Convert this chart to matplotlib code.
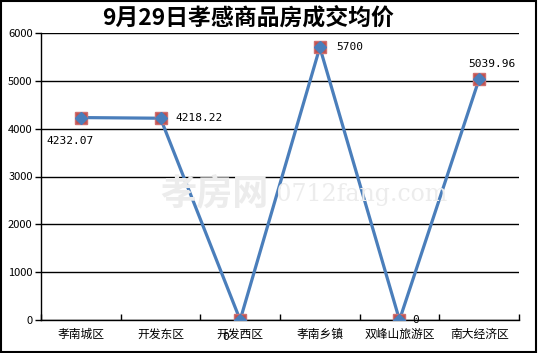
import matplotlib
matplotlib.use("Agg")
import matplotlib.pyplot as plt
from matplotlib.patches import Rectangle

plt.rcParams['font.family'] = ['Noto Sans CJK SC', 'DejaVu Sans']

categories = ["孝南城区", "开发东区", "开发西区", "孝南乡镇", "双峰山旅游区", "南大经济区"]
values = [4232.07, 4218.22, 0, 5700, 0, 5039.96]
labels = ["4232.07", "4218.22", "0", "5700", "0", "5039.96"]
yticks = [0, 1000, 2000, 3000, 4000, 5000, 6000]
title = "9月29日孝感商品房成交均价"

fig = plt.figure(figsize=(5.38, 3.53), dpi=100)
fig.patches.append(Rectangle((0.002, 0.003), 0.995, 0.994, transform=fig.transFigure,
                             fill=False, edgecolor='black', linewidth=1.5))
ax = fig.add_axes([41/538, 33/353, 478/538, 287/353])
x = list(range(len(categories)))
ax.plot(x, values, color='#4A7EBB', linewidth=2.3, zorder=3)
ax.plot(x, values, linestyle='none', marker='s', markersize=8,
        markerfacecolor='#C0504D', markeredgecolor='#D07070', zorder=4)
ax.plot(x, values, linestyle='none', marker='D', markersize=6,
        color='#4A7EBB', zorder=5)

ax.set_xlim(-0.5, len(categories) - 0.5)
ax.set_ylim(0, 6000)
ax.set_yticks(yticks)
ax.set_yticklabels([str(v) for v in yticks], fontsize=8)
ax.set_xticks(x)
ax.set_xticklabels(categories, fontsize=8.5)
ax.set_xticks([i - 0.5 for i in range(len(categories) + 1)], minor=True)
ax.tick_params(axis='x', which='major', length=0, pad=6)
ax.tick_params(axis='x', which='minor', length=4, direction='in', width=1)
ax.tick_params(axis='y', length=4, direction='out', width=1, pad=2)
for v in yticks:
    ax.axhline(v, color='black', linewidth=1, zorder=1)
for s in ['top', 'right']:
    ax.spines[s].set_visible(False)
ax.spines['left'].set_linewidth(1)
ax.spines['bottom'].set_linewidth(1)

mono = ['DejaVu Sans Mono']
offsets = [(-25, -17), (11, 0), (-13, -12), (12, 0), (9, 0), (-8, 11)]
for xi, v, lab, (dx, dy) in zip(x, values, labels, offsets):
    ax.annotate(lab, (xi, v), xytext=(dx, dy), textcoords='offset points',
                fontsize=8, ha='left', va='center', family=mono, zorder=6)

fig.text(0.462, 0.95, title, fontsize=16.5, fontweight='bold', ha='center', va='center')
fig.text(0.5, 0.448, "孝房网", fontsize=26, color='#ececec', ha='right', va='center',
         fontweight='bold', zorder=0)
fig.text(0.5, 0.448, " 0712fang.com", fontsize=17, color='#ececec', ha='left', va='center',
         family=['DejaVu Serif'], zorder=0)

fig.savefig("out.png", dpi=100)
